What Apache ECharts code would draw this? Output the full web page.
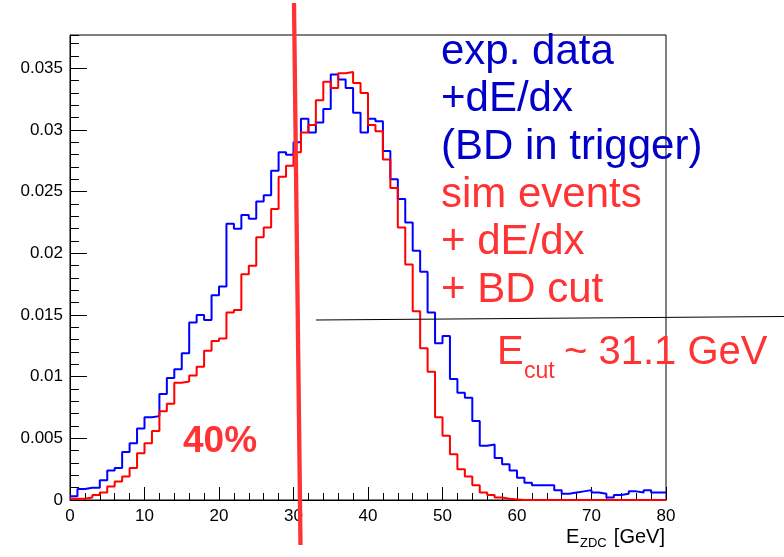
<!DOCTYPE html>
<html>
<head>
<meta charset="utf-8">
<script src="https://cdn.jsdelivr.net/npm/echarts@6.0.0/dist/echarts.min.js"></script>
<style>
html,body{margin:0;padding:0;background:#fff;}
#c{width:784px;height:557px;}
</style>
</head>
<body>
<div id="c"></div>
<script>
// Bin low edges are 0..79 GeV (1 GeV bins); values per bin
const binWidth = 1;
const expData = [
  0.0003, 0.0009, 0.0010, 0.0010, 0.0016, 0.0024, 0.0026, 0.0039, 0.0046, 0.0058,
  0.0067, 0.0068, 0.0086, 0.0099, 0.0106, 0.0119, 0.0144, 0.0150, 0.0146, 0.0166,
  0.0173, 0.0224, 0.0220, 0.0231, 0.0228, 0.0242, 0.0247, 0.0267, 0.0282, 0.0280,
  0.0290, 0.0309, 0.0298, 0.0306, 0.0317, 0.0345, 0.0341, 0.0334, 0.0314, 0.0298,
  0.0309, 0.0307, 0.0283, 0.0260, 0.0244, 0.0225, 0.0202, 0.0185, 0.0152, 0.0127,
  0.0133, 0.0098, 0.0087, 0.0083, 0.0064, 0.0044, 0.0045, 0.0034, 0.0029, 0.0024,
  0.0018, 0.0014, 0.0012, 0.0012, 0.0012, 0.0008, 0.0005, 0.0006, 0.0007, 0.0008,
  0.0006, 0.0005, 0.0002, 0.0004, 0.0005, 0.0007, 0.0006, 0.0008, 0.0006, 0.0006
];
const simData = [
  0.0001, 0.0001, 0.0002, 0.0004, 0.0006, 0.0011, 0.0015, 0.0019, 0.0026, 0.0038,
  0.0046, 0.0056, 0.0072, 0.0078, 0.0095, 0.0096, 0.0101, 0.0108, 0.0121, 0.0129,
  0.0131, 0.0152, 0.0154, 0.0183, 0.0190, 0.0213, 0.0221, 0.0236, 0.0262, 0.0271,
  0.0282, 0.0298, 0.0304, 0.0324, 0.0339, 0.0334, 0.0346, 0.0347, 0.0338, 0.0330,
  0.0304, 0.0299, 0.0276, 0.0253, 0.0221, 0.0191, 0.0153, 0.0123, 0.0104, 0.0067,
  0.0052, 0.0037, 0.0025, 0.0019, 0.0012, 0.0006, 0.0004, 0.0002, 0.0001, 0.00005,
  0, 0, 0, 0, 0, 0, 0, 0, 0, 0,
  0, 0, 0, 0, 0, 0, 0, 0, 0, 0
];
const xTickLabels = ['0','10','20','30','40','50','60','70','80'];
const yTickLabels = ['0','0.005','0.01','0.015','0.02','0.025','0.03','0.035'];
const legendBlue = ['exp. data', '+dE/dx', '(BD in trigger)'];
const legendRed = ['sim events', '+ dE/dx', '+ BD cut'];

function toSteps(vals) {
  const pts = vals.map((v, i) => [i * binWidth, v]);
  pts.push([vals.length * binWidth, vals[vals.length - 1]]);
  return pts;
}

const FONT = '"Liberation Sans", Arial, Helvetica, sans-serif';
const chart = echarts.init(document.getElementById('c'), null, {renderer: 'canvas'});

const legendTexts = [];
const lineGap = 47.7;
legendBlue.concat(legendRed).forEach((t, i) => {
  legendTexts.push({
    type: 'text', z: 100,
    x: 441, y: 52.1 + i * lineGap,
    style: {
      text: t, fill: i < 3 ? '#0000c8' : '#ff3333',
      font: '42px ' + FONT, align: 'left', verticalAlign: 'middle'
    }
  });
});

const option = {
  animation: false,
  backgroundColor: '#fff',
  grid: {
    left: 70, right: 118, top: 35, bottom: 57,
    show: true, borderColor: '#000', borderWidth: 1, backgroundColor: 'transparent',
    containLabel: false, outerBoundsMode: 'none'
  },
  xAxis: {
    type: 'value', min: 0, max: 80, interval: 10,
    axisLine: {show: true, onZero: false, lineStyle: {color: '#000', width: 1}},
    axisTick: {show: true, inside: true, length: 13, lineStyle: {color: '#000', width: 1}},
    minorTick: {show: true, splitNumber: 5, length: 7, lineStyle: {color: '#000', width: 1}},
    splitLine: {show: false},
    axisLabel: {
      show: true, margin: 8, color: '#000', fontSize: 17, fontFamily: FONT,
      formatter: v => { const i = Math.round(v / 10); return xTickLabels[i] !== undefined ? xTickLabels[i] : ''; }
    }
  },
  yAxis: [{
    type: 'value', min: 0, max: 0.0377, interval: 0.005,
    axisLine: {show: true, onZero: false, lineStyle: {color: '#000', width: 1}},
    axisTick: {show: true, inside: true, length: 17, lineStyle: {color: '#000', width: 1}},
    splitLine: {show: false},
    axisLabel: {
      show: true, margin: 7, color: '#000', fontSize: 17, fontFamily: FONT,
      showMaxLabel: false,
      formatter: v => {
        const i = Math.round(v / 0.005);
        return (Math.abs(v - i * 0.005) < 1e-9 && i < yTickLabels.length) ? yTickLabels[i] : '';
      }
    }
  }, {
    type: 'value', min: 0, max: 0.0377, interval: 0.001, position: 'left', offset: 0,
    axisLine: {show: false},
    axisTick: {show: true, inside: true, length: 9, lineStyle: {color: '#000', width: 1}},
    axisLabel: {show: false},
    splitLine: {show: false}
  }],
  series: [{
    name: 'exp', type: 'line', step: 'end', data: toSteps(expData),
    showSymbol: false, symbol: 'none', clip: false, z: 3,
    lineStyle: {color: '#0000ff', width: 2}
  }, {
    name: 'sim', type: 'line', step: 'end', data: toSteps(simData),
    showSymbol: false, symbol: 'none', clip: false, z: 4,
    lineStyle: {color: '#ff0000', width: 2}
  }],
  graphic: legendTexts.concat([
    {
      type: 'line', z: 100,
      shape: {x1: 316, y1: 320, x2: 784, y2: 316.5},
      style: {stroke: '#000', lineWidth: 1}
    },
    {
      type: 'line', z: 101,
      shape: {x1: 294, y1: 3, x2: 300.5, y2: 545},
      style: {stroke: '#ff3333', lineWidth: 4.3}
    },
    {
      type: 'text', z: 100, x: 183, y: 442.2,
      style: {text: '40%', fill: '#ff3333', font: 'bold 37px ' + FONT, align: 'left', verticalAlign: 'middle'}
    },
    {
      type: 'text', z: 100, x: 497, y: 352.8,
      style: {text: 'E', fill: '#ff3333', font: '40px ' + FONT, align: 'left', verticalAlign: 'middle'}
    },
    {
      type: 'text', z: 100, x: 524, y: 372,
      style: {text: 'cut', fill: '#ff3333', font: '23px ' + FONT, align: 'left', verticalAlign: 'middle'}
    },
    {
      type: 'text', z: 100, x: 564, y: 352.8,
      style: {text: '~ 31.1 GeV', fill: '#ff3333', font: '40px ' + FONT, align: 'left', verticalAlign: 'middle'}
    },
    {
      type: 'text', z: 100, x: 566, y: 537,
      style: {text: 'E', fill: '#000', font: '20px ' + FONT, align: 'left', verticalAlign: 'middle'}
    },
    {
      type: 'text', z: 100, x: 580, y: 543,
      style: {text: 'ZDC', fill: '#000', font: '13px ' + FONT, align: 'left', verticalAlign: 'middle'}
    },
    {
      type: 'text', z: 100, x: 665, y: 537,
      style: {text: ' [GeV]', fill: '#000', font: '20px ' + FONT, align: 'right', verticalAlign: 'middle'}
    }
  ])
};
chart.setOption(option);
</script>
</body>
</html>
